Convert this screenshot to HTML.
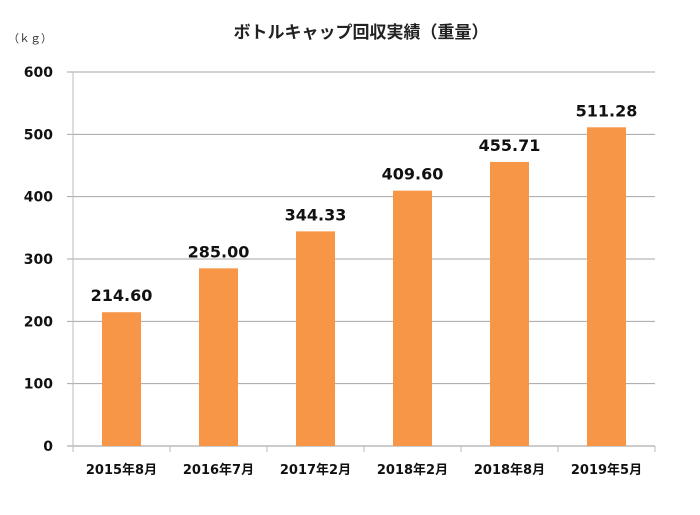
<!DOCTYPE html>
<html><head><meta charset="utf-8"><style>
body{margin:0;background:#fff}
svg{display:block;font-family:"DejaVu Sans","Noto Sans CJK JP",sans-serif}
</style></head><body>
<svg id="chart" width="700" height="515">
<text x="361" y="38" text-anchor="middle" font-size="17" font-weight="bold" fill="#222">ボトルキャップ回収実績（重量）</text>
<text x="30" y="42" text-anchor="middle" font-size="11" fill="#333">（ｋｇ）</text>
<g id="grid"></g><g id="bars"></g><g id="labels"></g>
</svg>
<script>
const categories=["2015年8月","2016年7月","2017年2月","2018年2月","2018年8月","2019年5月"];
const values=[214.60,285.00,344.33,409.60,455.71,511.28];
const yTicks=[0,100,200,300,400,500,600];
const X0=73,X1=655,Y0=446,Y1=72,YMAX=600;
const ns="http://www.w3.org/2000/svg";
const bw=(X1-X0)/categories.length;
const y=v=>Y0-(v/YMAX)*(Y0-Y1);
const x=i=>X0+bw*i;
function mk(t,a,p){const e=document.createElementNS(ns,t);for(const k in a)e.setAttribute(k,a[k]);p.appendChild(e);return e;}
const g=document.getElementById('grid'),b=document.getElementById('bars'),l=document.getElementById('labels');
yTicks.forEach(v=>{
 const ln=mk('line',{x1:67,x2:X1,y1:y(v),y2:y(v),stroke:v===0?'#999':'#a6a6a6','stroke-width':1},g);
 
 
 const t=mk('text',{x:53,y:y(v)+5,'text-anchor':'end','font-size':14,'font-weight':'bold',fill:'#111'},g);
 t.textContent=v;
 
 
});
const ax=mk('line',{x1:X0,x2:X0,y1:Y1,y2:Y0+6,stroke:'#bbb'},g);


for(let i=0;i<=categories.length;i++){
 const tk=mk('line',{x1:x(i),x2:x(i),y1:Y0,y2:Y0+6,stroke:'#bbb'},g);
 
 
}
categories.forEach((c,i)=>{
 const cx=x(i)+bw/2,w=39;
 const r=mk('rect',{x:cx-w/2,y:y(values[i]),width:w,height:Y0-y(values[i]),fill:'#f79646'},b);
 
 
 const vt=mk('text',{x:cx,y:y(values[i])-11,'text-anchor':'middle','font-size':16,'font-weight':'bold',fill:'#111'},l);
 vt.textContent=values[i].toFixed(2);
 
 
 const ct=mk('text',{x:cx,y:474,'text-anchor':'middle','font-size':13,'font-weight':'bold',fill:'#111'},l);
 ct.textContent=c;
 
 
});
</script>
</body></html>
